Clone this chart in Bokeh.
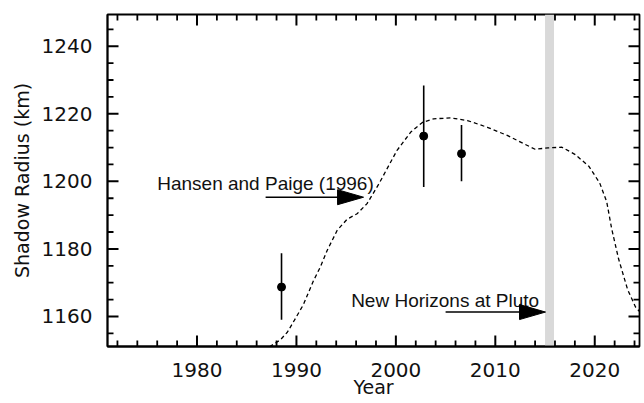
from bokeh.plotting import figure
from bokeh.models import LinearAxis, FixedTicker, Range1d, BoxAnnotation
from bokeh.embed import file_html
from bokeh.resources import INLINE
from bokeh.core.properties import value

# ---------------- data ----------------
# model curve (dashed)
curve_year = [1987.3, 1988.4, 1989.1, 1989.8, 1990.7, 1991.7, 1992.4, 1993.1, 1994.1,
              1995.1, 1996.1, 1997.1, 1998.3, 2000.1, 2001.5, 2002.7, 2003.8, 2005.5,
              2007.2, 2009.2, 2011.2, 2012.9, 2014.0, 2015.3, 2016.7, 2018.0, 2019.4,
              2020.5, 2021.2, 2021.7, 2022.4, 2023.3, 2024.1, 2024.7]
curve_radius = [1151.0, 1153.1, 1155.4, 1158.9, 1163.5, 1170.5, 1174.6, 1179.6, 1185.5,
                1188.8, 1190.4, 1193.4, 1199.3, 1209.1, 1214.6, 1217.5, 1218.5, 1218.8,
                1218.0, 1216.0, 1213.6, 1211.1, 1209.5, 1209.9, 1210.1, 1208.0, 1204.5,
                1199.5, 1194.0, 1186.0, 1177.0, 1168.0, 1162.8, 1160.8]

# observations with error bars
obs_year = [1988.5, 2002.8, 2006.6]
obs_radius = [1168.7, 1213.4, 1208.2]
obs_low = [1159.0, 1198.3, 1200.0]
obs_high = [1178.7, 1228.4, 1216.7]

# New Horizons flyby band
nh_band = [2015.0, 2015.9]

# annotations
note_text = ["Hansen and Paige (1996)", "New Horizons at Pluto"]
note_x = [1976.0, 1995.5]
note_y = [1199.3, 1164.8]
arrow_x0 = [1986.9, 2005.0]
arrow_x1 = [1996.75, 2015.05]
arrow_y = [1195.3, 1161.3]

# ticks
x_major = [1980, 1990, 2000, 2010, 2020]
x_minor = [1972, 1974, 1976, 1978, 1982, 1984, 1986, 1988, 1992, 1994, 1996, 1998,
           2002, 2004, 2006, 2008, 2012, 2014, 2016, 2018, 2022, 2024]
y_major = [1160, 1180, 1200, 1220, 1240]
y_minor = [1155, 1165, 1170, 1175, 1185, 1190, 1195, 1205, 1210, 1215, 1225, 1230,
           1235, 1245]

# ---------------- layout ----------------
X_RANGE = (1971.0, 2024.5)
Y_RANGE = (1151.1, 1249.4)
W, H = 644, 403
ML, MR, MT, MB = 107, 5, 14, 57
FW, FH = W - ML - MR, H - MT - MB
px_x = FW / (X_RANGE[1] - X_RANGE[0])   # pixels per year
px_y = FH / (Y_RANGE[1] - Y_RANGE[0])   # pixels per km

p = figure(width=W, height=H, output_backend="svg", toolbar_location=None,
           x_range=Range1d(*X_RANGE), y_range=Range1d(*Y_RANGE),
           x_axis_location=None, y_axis_location=None,
           min_border_left=ML, min_border_right=MR, min_border_top=MT, min_border_bottom=MB)
p.grid.visible = False
p.outline_line_color = "black"
p.outline_line_width = 1.8
p.background_fill_color = "white"
p.border_fill_color = "white"

TICK_FONT = "DejaVu Sans"


def labelled_axis(major, title):
    ax = LinearAxis(ticker=FixedTicker(ticks=major))
    ax.major_tick_in = 0
    ax.major_tick_out = 0
    ax.minor_tick_in = 0
    ax.minor_tick_out = 0
    ax.axis_line_color = "black"
    ax.axis_line_width = 1.8
    ax.major_label_text_font = TICK_FONT
    ax.major_label_text_font_size = "20px"
    ax.major_label_text_color = "#111111"
    ax.major_label_standoff = 16
    ax.axis_label = title
    ax.axis_label_text_font = TICK_FONT
    ax.axis_label_text_font_size = "19px"
    ax.axis_label_text_font_style = "normal"
    ax.axis_label_text_color = "#111111"
    return ax


bottom = labelled_axis(x_major, "Year")
bottom.axis_label_standoff = -4
left = labelled_axis(y_major, "Shadow Radius (km)")
left.major_label_standoff = 15
left.axis_label_standoff = 6
p.add_layout(bottom, "below")
p.add_layout(left, "left")

# grey band
band = BoxAnnotation(left=nh_band[0], right=nh_band[1], fill_color="#d9d9d9", fill_alpha=1.0,
                     line_color=None, level="underlay")
p.add_layout(band)

# inward tick marks on all four sides (lengths in pixels converted to data units)
MAJOR_LEN, MINOR_LEN = 11, 6
for ticks, length, lw in ((x_major, MAJOR_LEN, 2.0), (x_minor, MINOR_LEN, 1.8)):
    d = length / px_y
    p.segment(x0=ticks, y0=[Y_RANGE[0]] * len(ticks), x1=ticks, y1=[Y_RANGE[0] + d] * len(ticks),
              line_color="black", line_width=lw)
    p.segment(x0=ticks, y0=[Y_RANGE[1]] * len(ticks), x1=ticks, y1=[Y_RANGE[1] - d] * len(ticks),
              line_color="black", line_width=lw)
for ticks, length, lw in ((y_major, MAJOR_LEN, 2.0), (y_minor, MINOR_LEN, 1.8)):
    d = length / px_x
    p.segment(x0=[X_RANGE[0]] * len(ticks), y0=ticks, x1=[X_RANGE[0] + d] * len(ticks), y1=ticks,
              line_color="black", line_width=lw)
    p.segment(x0=[X_RANGE[1]] * len(ticks), y0=ticks, x1=[X_RANGE[1] - d] * len(ticks), y1=ticks,
              line_color="black", line_width=lw)

# dashed model curve
p.line(curve_year, curve_radius, line_color="black", line_width=1.3, line_dash="4 3")

# error bars and points
p.segment(x0=obs_year, y0=obs_low, x1=obs_year, y1=obs_high, line_color="black", line_width=1.6)
p.scatter(obs_year, obs_radius, size=8, marker="circle", fill_color="black", line_color="black")

# annotation texts
p.text(x=note_x, y=note_y, text=note_text, text_font=value("Liberation Sans"),
       text_font_size="19px", text_color="#111111", text_baseline="alphabetic", text_align="left")

# arrows: shaft + triangular head (head size in pixels converted to data units)
HEAD_LEN, HEAD_HALF = 26, 7.5
head_len = HEAD_LEN / px_x
head_half = HEAD_HALF / px_y
p.segment(x0=arrow_x0, y0=arrow_y, x1=[x - head_len * 0.9 for x in arrow_x1], y1=arrow_y,
          line_color="black", line_width=1.6)
head_xs = [[x - head_len, x, x - head_len] for x in arrow_x1]
head_ys = [[y + head_half, y, y - head_half] for y in arrow_y]
p.patches(head_xs, head_ys, fill_color="black", line_color="black", line_width=1)

open("out.html", "w").write(file_html(p, INLINE))
